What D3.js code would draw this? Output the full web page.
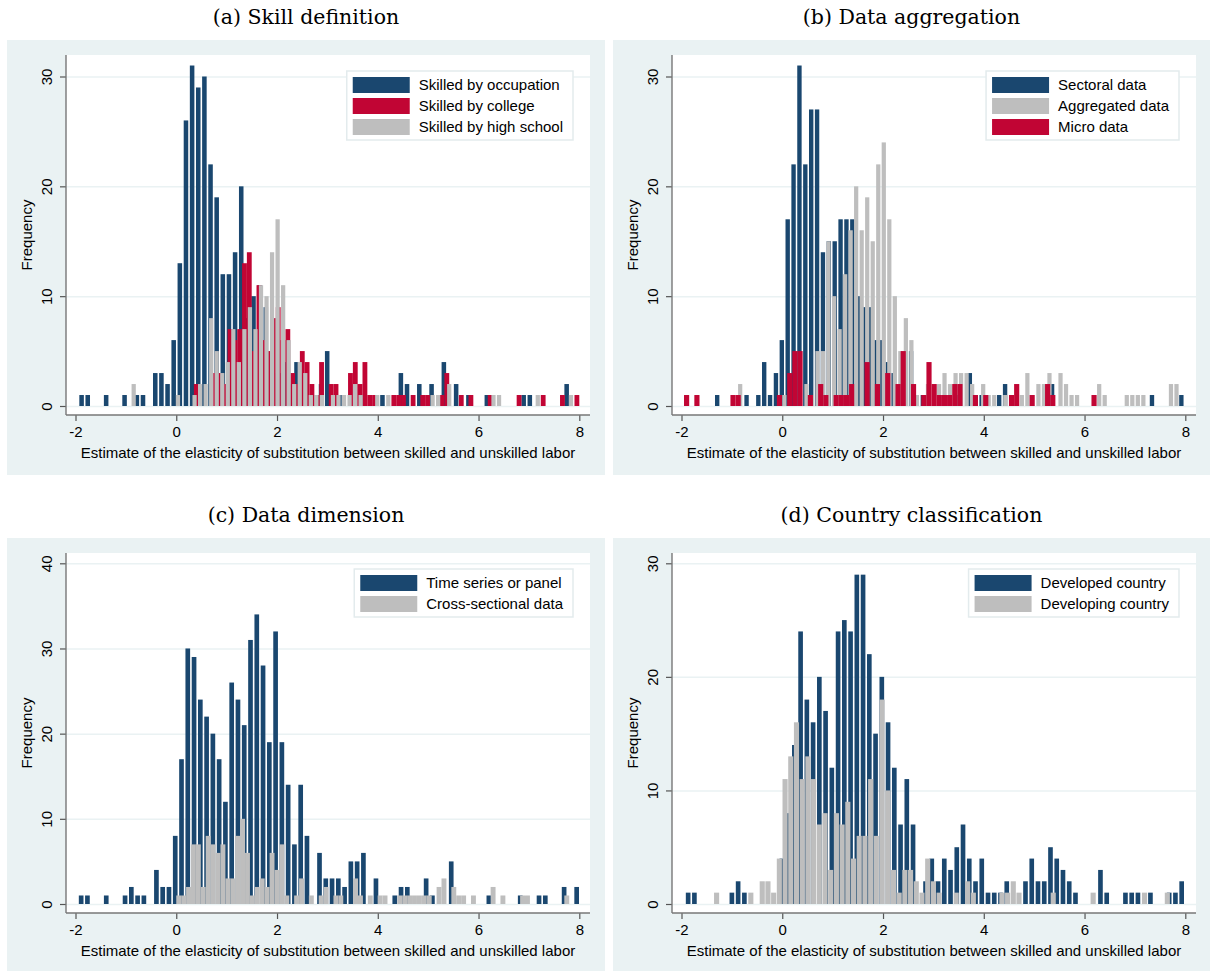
<!DOCTYPE html>
<html>
<head>
<meta charset="utf-8">
<script src="https://cdn.jsdelivr.net/npm/d3@7"></script>
<style>
  body { margin: 0; background: #ffffff; }
  svg { display: block; }
  text { font-family: "Liberation Sans", Arial, sans-serif; fill: #000; }
  .title { font-family: "DejaVu Serif", "Liberation Serif", serif; }
</style>
</head>
<body>
<svg id="chart" width="1210" height="971"></svg>
<script>
// Tick values
const xTicks = [-2, 0, 2, 4, 6, 8];
const yTicks30 = [0, 10, 20, 30];
const yTicks40 = [0, 10, 20, 30, 40];

// Every series is an 80-bin histogram between its own min and max
// (a) Skill definition
const occRange = [-1.94, 7.81];
const occCounts = [1,1,0,0,1,0,0,1,0,1, 1,0,3,3,2,6,13,26,31,29, 30,22,19,12,12,14,20,8,10,11,
                   9,5,3,4,2,4,0,0,0,2, 5,0,1,0,0,0,1,0,0,1, 0,0,3,2,0,2,0,2,0,4,
                   0,2,0,1,0,0,1,0,0,0, 0,0,1,1,0,0,0,0,0,2];
const colRange = [0.35, 8.0];
const colCounts = [2,0,0,0,3,3,2,7,6,7, 13,14,5,11,6,5,8,9,6,7, 3,2,5,4,2,1,4,0,2,2,
                   0,0,3,4,2,4,1,1,0,0, 0,1,1,1,0,1,0,1,1,0, 0,1,3,0,0,1,0,1,0,0,
                   0,1,0,0,0,0,0,1,0,0, 0,0,1,0,0,0,1,0,0,1];
const hsRange = [-0.90, 7.89];
const hsCounts = [2,0,0,0,0,0,0,0,1,0, 0,1,2,2,8,5,3,4,7,4, 7,9,7,11,10,14,17,11,6,2,
                  4,3,1,1,1,0,1,1,1,1, 2,1,0,0,1,0,1,0,0,0, 0,0,0,0,1,1,0,2,0,0,
                  0,0,0,0,0,1,1,0,0,0, 0,0,0,1,0,0,0,0,0,1];

// (b) Data aggregation
const secRange = [-1.35, 7.98];
const secCounts = [1,0,0,0,0,1,0,1,4,1, 3,6,17,22,31,22,27,27,14,15, 15,17,17,17,10,9,9,6,6,4,
                   3,1,1,5,0,1,0,0,0,0, 0,1,0,3,0,1,0,0,1,2, 0,0,0,0,0,0,0,2,0,0,
                   0,0,0,0,0,0,0,0,0,0, 0,0,0,0,1,0,0,0,0,1];
const aggRange = [-0.89, 7.88];
const aggCounts = [2,0,0,0,0,0,0,0,1,0, 0,0,2,1,5,5,15,10,7,12, 16,20,16,19,15,22,24,17,10,5,
                   8,6,1,0,2,0,2,3,2,3, 3,3,2,0,2,1,1,0,1,0, 0,1,3,0,2,2,3,0,3,2,
                   1,1,0,0,0,2,1,0,0,0, 1,1,1,1,0,0,0,0,2,2];
const micRange = [-1.95, 6.24];
const micCounts = [1,0,1,0,0,0,0,0,0,1, 1,0,0,0,0,0,0,0,1,0, 3,5,5,0,1,0,2,1,0,1,
                   1,1,2,0,0,4,0,2,0,3, 0,2,5,0,2,0,1,4,2,1, 1,1,2,2,0,0,1,0,1,0,
                   0,0,0,1,2,0,0,1,0,0, 2,1,0,0,0,0,0,0,0,1];

// (c) Data dimension
const tsRange = [-1.95, 8.01];
const tsCounts = [1,1,0,0,1,0,0,1,2,1, 1,0,4,2,2,8,17,30,29,24, 22,20,17,12,26,24,21,31,34,28,
                  19,32,19,14,7,14,8,0,6,3, 3,3,2,5,5,6,0,3,0,0, 1,2,2,0,0,3,1,0,0,5,
                  0,0,0,0,0,1,0,0,0,0, 1,0,0,1,1,0,0,2,0,2];
const csRange = [0.0, 7.80];
const csCounts = [1,1,2,7,7,2,8,7,6,7, 3,3,8,10,6,1,2,3,2,6, 4,7,1,0,1,3,0,1,0,1,
                  2,0,1,1,0,0,3,1,0,1, 0,1,1,0,0,1,1,1,1,1, 1,1,0,2,3,0,2,1,1,0,
                  1,0,0,0,2,0,1,0,0,0, 1,1,0,0,0,0,0,0,0,1];

// (d) Country classification
const devRange = [-1.93, 7.99];
const devCounts = [1,1,0,0,0,0,0,1,2,1, 0,0,0,0,0,4,8,14,24,18, 16,20,17,12,24,25,24,29,29,22,
                   15,20,16,12,7,11,7,0,2,4, 2,4,3,5,7,4,2,4,1,1, 1,2,0,0,2,4,2,2,5,4,
                   3,2,1,0,0,0,3,1,0,0, 1,1,1,0,1,0,0,1,1,2];
const dvgRange = [-1.36, 7.70];
const dvgCounts = [1,0,0,0,0,0,1,0,2,2, 1,4,11,13,16,11,13,11,7,8, 3,8,7,9,4,6,6,11,6,18,
                   10,3,1,3,3,2,1,4,2,1, 0,0,1,0,2,1,0,0,0,0, 1,1,2,1,0,0,0,0,0,1,
                   0,0,0,0,0,0,1,0,0,0, 0,0,0,0,0,1,0,0,0,1];

// Stata s2color palette
const navy = "#1a476f", cranberry = "#c10534", gray = "#bebebe", bluishGray = "#eaf2f3";

const xTitle = "Estimate of the elasticity of substitution between skilled and unskilled labor";

const svg = d3.select("#chart");

// Panel layout (left/right column and top/bottom row)
const cols = [{ bx: 7, bw: 598, plotL: 66, plotR: 590 }, { bx: 613, bw: 597, plotL: 672, plotR: 1196 }];
const rows = [{ by: 40, bh: 435, plotT: 55, plotB: 415 }, { by: 538, bh: 435, plotT: 553, plotB: 913 }];

const panels = [
    { title: "(a) Skill definition", col: cols[0], row: rows[0], yTicks: yTicks30, yMax: 30, yTopPx: 76.5,
      series: [
        { label: "Skilled by occupation", counts: occCounts, range: occRange, color: navy, gap: 1.6 },
        { label: "Skilled by college", counts: colCounts, range: colRange, color: cranberry, gap: 0 },
        { label: "Skilled by high school", counts: hsCounts, range: hsRange, color: gray, gap: 1.3 }
      ] },
    { title: "(b) Data aggregation", col: cols[1], row: rows[0], yTicks: yTicks30, yMax: 30, yTopPx: 76.5,
      series: [
        { label: "Sectoral data", counts: secCounts, range: secRange, color: navy, gap: 1.5 },
        { label: "Aggregated data", counts: aggCounts, range: aggRange, color: gray, gap: 1.3 },
        { label: "Micro data", counts: micCounts, range: micRange, color: cranberry, gap: 0 }
      ] },
    { title: "(c) Data dimension", col: cols[0], row: rows[1], yTicks: yTicks40, yMax: 40, yTopPx: 563.3,
      series: [
        { label: "Time series or panel", counts: tsCounts, range: tsRange, color: navy, gap: 1.6 },
        { label: "Cross-sectional data", counts: csCounts, range: csRange, color: gray, gap: 0 }
      ] },
    { title: "(d) Country classification", col: cols[1], row: rows[1], yTicks: yTicks30, yMax: 30, yTopPx: 563.3,
      series: [
        { label: "Developed country", counts: devCounts, range: devRange, color: navy, gap: 1.6 },
        { label: "Developing country", counts: dvgCounts, range: dvgRange, color: gray, gap: 0.6 }
      ] }
];

function drawPanel(p) {
    const c = p.col, r = p.row;
    const g = svg.append("g");

    // Outer light background and white plot region
    g.append("rect")
        .attr("x", c.bx).attr("y", r.by)
        .attr("width", c.bw).attr("height", r.bh)
        .attr("fill", bluishGray);
    g.append("rect")
        .attr("x", c.plotL).attr("y", r.plotT)
        .attr("width", c.plotR - c.plotL).attr("height", r.plotB - r.plotT)
        .attr("fill", "#ffffff");

    const x = d3.scaleLinear().domain([-2, 8]).range([c.plotL + 9.5, c.plotR - 10.7]);
    const y = d3.scaleLinear().domain([0, p.yMax]).range([r.plotB - 9, p.yTopPx]);

    // Horizontal gridlines
    g.append("g")
        .attr("transform", "translate(" + c.plotL + ",0)")
        .call(d3.axisLeft(y).tickValues(p.yTicks).tickSize(-(c.plotR - c.plotL)).tickFormat(""))
        .call(s => {
            s.select(".domain").remove();
            s.selectAll("line").attr("stroke", bluishGray).attr("stroke-width", 1.5);
        });

    // Histogram bars, later series drawn on top
    p.series.forEach(s => {
        const w = (s.range[1] - s.range[0]) / s.counts.length;
        const bins = s.counts
            .map((n, i) => ({ x0: s.range[0] + i * w, x1: s.range[0] + (i + 1) * w, n: n }))
            .filter(b => b.n > 0);
        g.append("g").selectAll("rect")
            .data(bins)
            .join("rect")
            .attr("x", b => x(b.x0) + s.gap / 2)
            .attr("width", b => Math.max(0.6, x(b.x1) - x(b.x0) - s.gap))
            .attr("y", b => y(b.n))
            .attr("height", b => y(0) - y(b.n))
            .attr("fill", s.color);
    });

    // Y axis with vertical tick labels
    g.append("g")
        .attr("transform", "translate(" + c.plotL + ",0)")
        .call(d3.axisLeft(y).tickValues(p.yTicks).tickSize(6).tickFormat(d => String(d)))
        .call(s => {
            s.select(".domain").remove();
            s.selectAll("line").attr("stroke", "#555").attr("stroke-width", 1.2);
            s.selectAll("text")
                .attr("x", null).attr("dy", null)
                .attr("transform", "translate(-14,0) rotate(-90)")
                .attr("text-anchor", "middle")
                .style("font-size", "15px");
        });

    // X axis
    g.append("g")
        .attr("transform", "translate(0," + r.plotB + ")")
        .call(d3.axisBottom(x).tickValues(xTicks).tickSize(6).tickPadding(5.5).tickFormat(d => String(d)))
        .call(s => {
            s.select(".domain").remove();
            s.selectAll("line").attr("stroke", "#555").attr("stroke-width", 1.2);
            s.selectAll("text").style("font-size", "15px");
        });

    // Axis lines
    g.append("line")
        .attr("x1", c.plotL).attr("x2", c.plotL)
        .attr("y1", r.plotT).attr("y2", r.plotB)
        .attr("stroke", "#777").attr("stroke-width", 1.4);
    g.append("line")
        .attr("x1", c.plotL).attr("x2", c.plotR)
        .attr("y1", r.plotB).attr("y2", r.plotB)
        .attr("stroke", "#777").attr("stroke-width", 1.4);

    // Axis titles
    g.append("text")
        .attr("x", (c.plotL + c.plotR) / 2)
        .attr("y", r.plotB + 43)
        .attr("text-anchor", "middle")
        .style("font-size", "15px")
        .text(xTitle);
    g.append("text")
        .attr("transform", "translate(" + (c.plotL - 34) + "," + ((r.plotT + r.plotB) / 2) + ") rotate(-90)")
        .attr("text-anchor", "middle")
        .style("font-size", "15px")
        .text("Frequency");

    // Panel title
    g.append("text")
        .attr("class", "title")
        .attr("x", c.bx + c.bw / 2)
        .attr("y", r.by - 16.5)
        .attr("text-anchor", "middle")
        .style("font-size", "20.5px")
        .text(p.title);

    // Legend in the top right corner
    const legend = g.append("g");
    const box = legend.append("rect")
        .attr("fill", "#ffffff")
        .attr("stroke", "#e3ebed")
        .attr("stroke-width", 1.5);
    let maxW = 0;
    p.series.forEach((s, i) => {
        legend.append("rect")
            .attr("x", 6).attr("y", 6 + 21 * i)
            .attr("width", 57).attr("height", 16)
            .attr("fill", s.color);
        const t = legend.append("text")
            .attr("x", 72).attr("y", 14 + 21 * i)
            .attr("dy", ".35em")
            .style("font-size", "15px")
            .text(s.label);
        maxW = Math.max(maxW, t.node().getComputedTextLength());
    });
    const boxW = 72 + maxW + 10;
    box.attr("width", boxW).attr("height", 6 + 21 * p.series.length);
    legend.attr("transform", "translate(" + (c.plotR - 17 - boxW) + "," + (r.plotT + 16) + ")");
}

panels.forEach(drawPanel);
</script>
</body>
</html>
